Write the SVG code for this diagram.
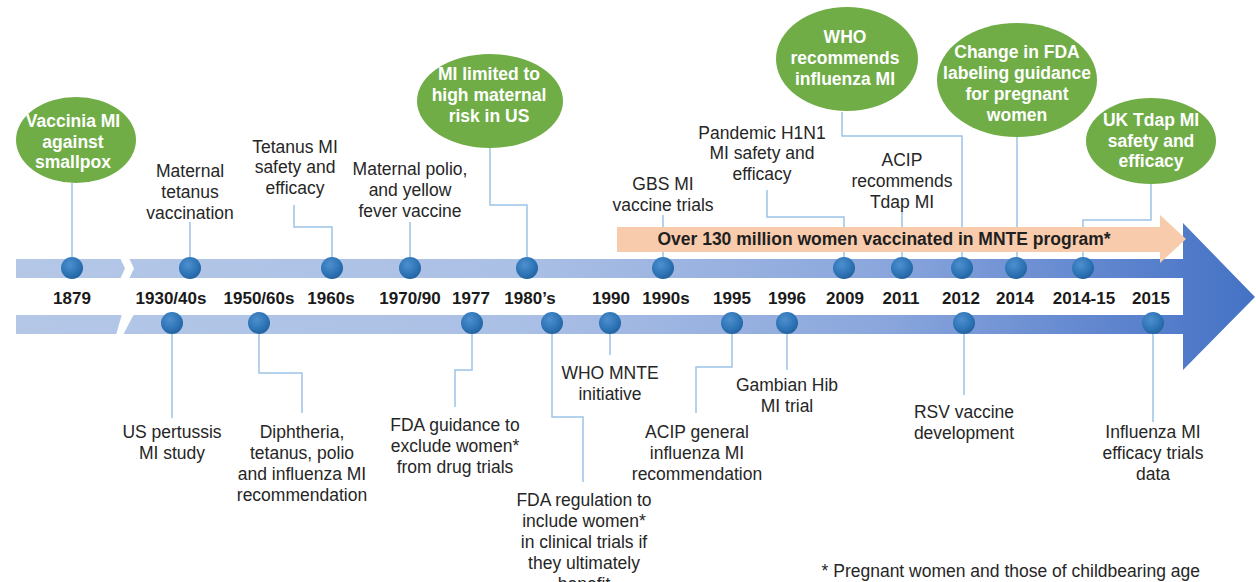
<svg xmlns="http://www.w3.org/2000/svg" width="1256" height="582" viewBox="0 0 1256 582">
<defs>
<linearGradient id="band" gradientUnits="userSpaceOnUse" x1="16" y1="0" x2="1256" y2="0">
<stop offset="0" stop-color="#b4c7e7"/>
<stop offset="0.4" stop-color="#abc0e5"/>
<stop offset="0.7" stop-color="#8aa6dc"/>
<stop offset="0.9" stop-color="#5b82cd"/>
<stop offset="1" stop-color="#4472c4"/>
</linearGradient>
<radialGradient id="dot" cx="0.4" cy="0.35" r="0.7">
<stop offset="0" stop-color="#4f8fcd"/>
<stop offset="0.6" stop-color="#2f76b8"/>
<stop offset="1" stop-color="#22609c"/>
</radialGradient>
<style>
.lbl{font-family:"Liberation Sans",Arial,sans-serif;font-size:17.5px;fill:#262626;text-anchor:middle}
.bub{font-family:"Liberation Sans",Arial,sans-serif;font-size:17.5px;font-weight:bold;fill:#ffffff;text-anchor:middle}
.yr{font-family:"Liberation Sans",Arial,sans-serif;font-size:17px;font-weight:bold;fill:#1a1a1a;text-anchor:middle}
.org{font-family:"Liberation Sans",Arial,sans-serif;font-size:17.5px;font-weight:bold;fill:#1f1f1f;text-anchor:middle}
.ell{fill:#70ad47}
.dt{fill:url(#dot)}
.con{fill:none;stroke:#9dc3e6;stroke-width:1.5}
</style>
</defs>
<rect width="1256" height="582" fill="#ffffff"/>

<g id="connectors">
<polyline class="con" points="72,183 72,258"/>
<polyline class="con" points="190,222 190,258"/>
<polyline class="con" points="294,205 294,227 332,227 332,258"/>
<polyline class="con" points="410,222 410,258"/>
<polyline class="con" points="490,148 490,205 527,205 527,258"/>
<polyline class="con" points="663,215 663,258"/>
<polyline class="con" points="767,190 767,217 844,217 844,258"/>
<polyline class="con" points="902,211 902,258"/>
<polyline class="con" points="842,112 842,136 962,136 962,258"/>
<polyline class="con" points="1017,137 1017,258"/>
<polyline class="con" points="1151,184 1151,220 1083,220 1083,258"/>
<polyline class="con" points="172,333 172,418"/>
<polyline class="con" points="259,333 259,373 302,373 302,413"/>
<polyline class="con" points="472,333 472,370 455,370 455,407"/>
<polyline class="con" points="552,333 552,417 583,417 583,482"/>
<polyline class="con" points="610,333 610,355"/>
<polyline class="con" points="732,333 732,367 696,367 696,413"/>
<polyline class="con" points="787,333 787,370"/>
<polyline class="con" points="964,333 964,395"/>
<polyline class="con" points="1153,333 1153,422"/>
</g>

<g id="timeline">
<polygon fill="url(#band)" points="16,259 1183,259 1183,223 1255,297 1183,370 1183,334 16,334"/>
<rect x="0" y="278" width="1183" height="37" fill="#ffffff"/>
<polygon fill="#ffffff" points="120,258 129,258 134,268.5 129,279 120,279 125,268.5"/>
<polygon fill="#ffffff" points="122,314 134,314 123,335 116,335"/>
</g>

<g id="mnte-arrow">
<polygon fill="#f8cbad" points="617,227 1160,227 1160,215 1186,239 1160,263 1160,252 617,252"/>
<text class="org" x="884" y="245">Over 130 million women vaccinated in MNTE program*</text>
</g>

<g id="dots">
<circle class="dt" cx="72" cy="268" r="11"/>
<circle class="dt" cx="190" cy="268" r="11"/>
<circle class="dt" cx="332" cy="268" r="11"/>
<circle class="dt" cx="410" cy="268" r="11"/>
<circle class="dt" cx="527" cy="268" r="11"/>
<circle class="dt" cx="663" cy="268" r="11"/>
<circle class="dt" cx="844" cy="268" r="11"/>
<circle class="dt" cx="902" cy="268" r="11"/>
<circle class="dt" cx="962" cy="268" r="11"/>
<circle class="dt" cx="1016" cy="268" r="11"/>
<circle class="dt" cx="1083" cy="268" r="11"/>
<circle class="dt" cx="172" cy="323" r="11"/>
<circle class="dt" cx="259" cy="323" r="11"/>
<circle class="dt" cx="472" cy="323" r="11"/>
<circle class="dt" cx="552" cy="323" r="11"/>
<circle class="dt" cx="610" cy="323" r="11"/>
<circle class="dt" cx="732" cy="323" r="11"/>
<circle class="dt" cx="787" cy="323" r="11"/>
<circle class="dt" cx="964" cy="323" r="11"/>
<circle class="dt" cx="1153" cy="323" r="11"/>
</g>

<g id="years">
<text class="yr" x="72" y="304">1879</text>
<text class="yr" x="171" y="304">1930/40s</text>
<text class="yr" x="259" y="304">1950/60s</text>
<text class="yr" x="331" y="304">1960s</text>
<text class="yr" x="410" y="304">1970/90</text>
<text class="yr" x="471" y="304">1977</text>
<text class="yr" x="530" y="304">1980’s</text>
<text class="yr" x="611" y="304">1990</text>
<text class="yr" x="666" y="304">1990s</text>
<text class="yr" x="732" y="304">1995</text>
<text class="yr" x="787" y="304">1996</text>
<text class="yr" x="845" y="304">2009</text>
<text class="yr" x="901" y="304">2011</text>
<text class="yr" x="961" y="304">2012</text>
<text class="yr" x="1015" y="304">2014</text>
<text class="yr" x="1084" y="304">2014-15</text>
<text class="yr" x="1151" y="304">2015</text>
</g>

<g id="n-vaccinia">
<ellipse class="ell" cx="76" cy="140" rx="60" ry="43"/>
<text class="bub" x="73"><tspan x="73" y="127">Vaccinia MI</tspan><tspan x="73" y="148">against</tspan><tspan x="73" y="168">smallpox</tspan></text>
</g>
<g id="n-limited">
<ellipse class="ell" cx="490" cy="101" rx="73" ry="47"/>
<text class="bub"><tspan x="489" y="80">MI limited to</tspan><tspan x="489" y="101">high maternal</tspan><tspan x="489" y="122">risk in US</tspan></text>
</g>
<g id="n-who">
<ellipse class="ell" cx="847" cy="59" rx="71" ry="52"/>
<text class="bub"><tspan x="845" y="43">WHO</tspan><tspan x="845" y="64">recommends</tspan><tspan x="845" y="85">influenza MI</tspan></text>
</g>
<g id="n-fda-label">
<ellipse class="ell" cx="1017" cy="80" rx="80" ry="57"/>
<text class="bub"><tspan x="1017" y="58">Change in FDA</tspan><tspan x="1017" y="79">labeling guidance</tspan><tspan x="1017" y="100">for pregnant</tspan><tspan x="1017" y="121">women</tspan></text>
</g>
<g id="n-uk">
<ellipse class="ell" cx="1151" cy="141" rx="65" ry="43"/>
<text class="bub"><tspan x="1151" y="126">UK Tdap MI</tspan><tspan x="1151" y="147">safety and</tspan><tspan x="1151" y="167">efficacy</tspan></text>
</g>

<g id="n-mat-tet">
<text class="lbl"><tspan x="190" y="177">Maternal</tspan><tspan x="190" y="198">tetanus</tspan><tspan x="190" y="219">vaccination</tspan></text>
</g>
<g id="n-tet-mi">
<text class="lbl"><tspan x="295" y="153">Tetanus MI</tspan><tspan x="295" y="173">safety and</tspan><tspan x="295" y="194">efficacy</tspan></text>
</g>
<g id="n-polio">
<text class="lbl"><tspan x="410" y="175">Maternal polio,</tspan><tspan x="410" y="196">and yellow</tspan><tspan x="410" y="217">fever vaccine</tspan></text>
</g>
<g id="n-gbs">
<text class="lbl"><tspan x="663" y="190">GBS MI</tspan><tspan x="663" y="211">vaccine trials</tspan></text>
</g>
<g id="n-h1n1">
<text class="lbl"><tspan x="762" y="139">Pandemic H1N1</tspan><tspan x="762" y="159">MI safety and</tspan><tspan x="762" y="180">efficacy</tspan></text>
</g>
<g id="n-acip-tdap">
<text class="lbl"><tspan x="902" y="166">ACIP</tspan><tspan x="902" y="187">recommends</tspan><tspan x="902" y="208">Tdap MI</tspan></text>
</g>

<g id="n-pertussis">
<text class="lbl"><tspan x="172" y="438">US pertussis</tspan><tspan x="172" y="459">MI study</tspan></text>
</g>
<g id="n-diph">
<text class="lbl"><tspan x="302" y="438">Diphtheria,</tspan><tspan x="302" y="459">tetanus, polio</tspan><tspan x="302" y="480">and influenza MI</tspan><tspan x="302" y="501">recommendation</tspan></text>
</g>
<g id="n-fda-guid">
<text class="lbl"><tspan x="455" y="431">FDA guidance to</tspan><tspan x="455" y="452">exclude women*</tspan><tspan x="455" y="473">from drug trials</tspan></text>
</g>
<g id="n-fda-reg">
<text class="lbl"><tspan x="584" y="506">FDA regulation to</tspan><tspan x="584" y="527">include women*</tspan><tspan x="584" y="548">in clinical trials if</tspan><tspan x="584" y="569">they ultimately</tspan><tspan x="584" y="590">benefit</tspan></text>
</g>
<g id="n-who-mnte">
<text class="lbl"><tspan x="610" y="379">WHO MNTE</tspan><tspan x="610" y="400">initiative</tspan></text>
</g>
<g id="n-acip-gen">
<text class="lbl"><tspan x="697" y="438">ACIP general</tspan><tspan x="697" y="459">influenza MI</tspan><tspan x="697" y="480">recommendation</tspan></text>
</g>
<g id="n-gambian">
<text class="lbl"><tspan x="787" y="391">Gambian Hib</tspan><tspan x="787" y="412">MI trial</tspan></text>
</g>
<g id="n-rsv">
<text class="lbl"><tspan x="964" y="418">RSV vaccine</tspan><tspan x="964" y="439">development</tspan></text>
</g>
<g id="n-flu-eff">
<text class="lbl"><tspan x="1153" y="438">Influenza MI</tspan><tspan x="1153" y="459">efficacy trials</tspan><tspan x="1153" y="480">data</tspan></text>
</g>

<g id="footnote">
<text class="lbl" x="1200" y="577" style="text-anchor:end">* Pregnant women and those of childbearing age</text>
</g>
</svg>
